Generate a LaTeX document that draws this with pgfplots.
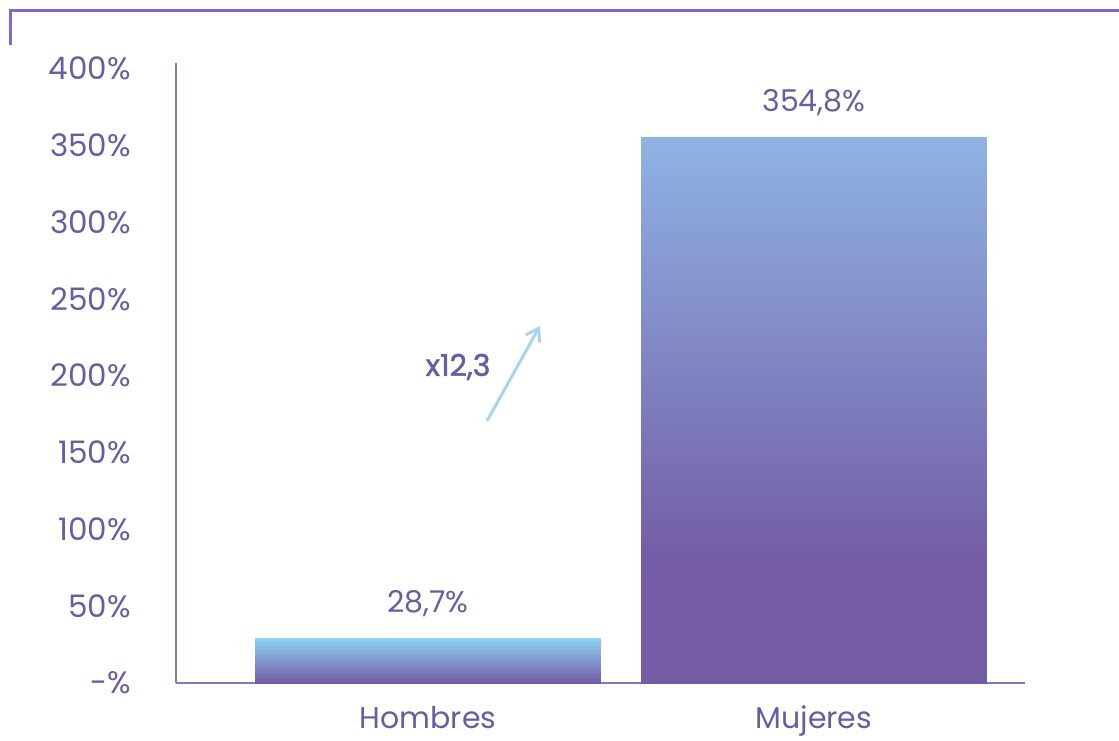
\documentclass[border=0pt]{standalone}
\usepackage{pgfplots}
\pgfplotsset{compat=1.18}
\usepackage{fontspec}
\setmainfont{Poppins}
\usetikzlibrary{arrows.meta}

\definecolor{txt}{HTML}{6A5C9F}
\definecolor{axiscol}{HTML}{8478B8}
\definecolor{framecol}{HTML}{8366CC}
\definecolor{barpurple}{HTML}{735CA5}
\definecolor{mujtop}{HTML}{8FB3E2}
\definecolor{homtop}{HTML}{8DD0F0}
\definecolor{arrowcol}{HTML}{A8D4EC}

\pgfdeclareverticalshading{mujeres}{100bp}{color(0bp)=(barpurple); color(36bp)=(barpurple); color(75bp)=(mujtop); color(100bp)=(mujtop)}
\pgfdeclareverticalshading{hombres}{100bp}{color(0bp)=(barpurple); color(25bp)=(barpurple); color(75bp)=(homtop); color(100bp)=(homtop)}

\begin{document}
\begin{tikzpicture}
\useasboundingbox (0,0) rectangle (559.5pt,370pt);
\draw[framecol, line width=1.5pt] (5pt,347.5pt) -- (5pt,364.5pt) -- (559.5pt,364.5pt);
\begin{axis}[
  at={(88pt,28.5pt)}, anchor=south west,
  scale only axis,
  width=424.5pt, height=310pt,
  xmin=-0.653, xmax=1.547,
  ymin=0, ymax=403.6,
  axis lines=left,
  axis line style={-, draw=axiscol, line width=1pt},
  major tick length=0pt,
  xtick={0,1}, xticklabels={Hombres,Mujeres},
  ytick={0,50,...,400},
  yticklabels={-\%,50\%,100\%,150\%,200\%,250\%,300\%,350\%,400\%},
  yticklabel style={anchor=east, xshift=-19pt, text=txt, font=\fontsize{15.5}{18}\selectfont},
  xticklabel style={yshift=-8pt, text=txt, font=\fontsize{15}{18}\selectfont},
  /pgf/number format/assume math mode=true,
  ybar, bar shift=0pt, bar width=0.896,
  point meta=explicit symbolic,
  nodes near coords,
  nodes near coords style={anchor=south, yshift=7.5pt, text=txt, font=\fontsize{15}{18}\selectfont},
  clip=false,
]
\addplot[draw=none, shading=hombres] coordinates {(0,28.7) [28,7\%]};
\addplot[draw=none, shading=mujeres] coordinates {(1,354.8) [354,8\%]};
\draw[arrowcol, line width=1.5pt, -{Straight Barb[length=6pt,width=8pt]}] (axis cs:0.153,170.6) -- (axis cs:0.290,232.4);
\node[text=txt, font=\fontsize{15}{18}\selectfont\addfontfeatures{FakeBold=1.5}] at (axis cs:0.078,205.7) {x12,3};
\end{axis}
\end{tikzpicture}
\end{document}
